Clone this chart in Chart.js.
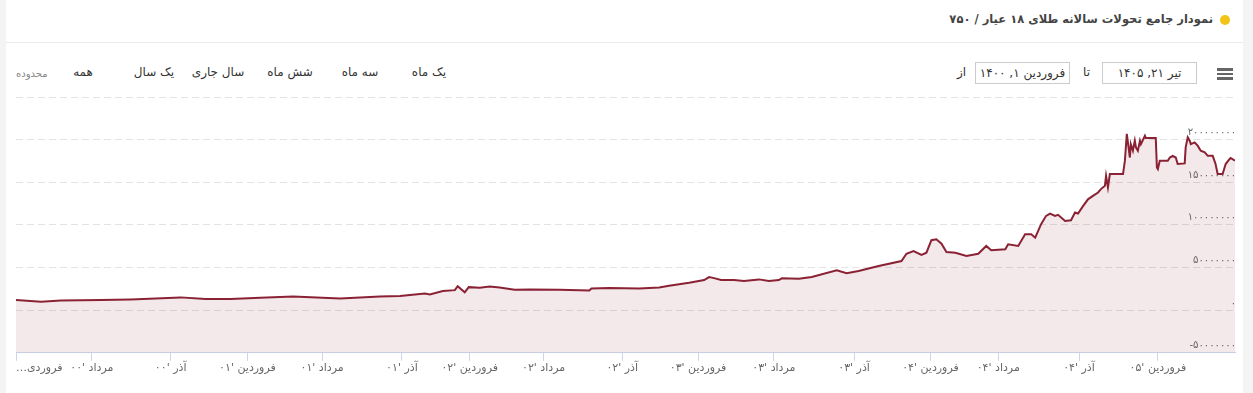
<!DOCTYPE html>
<html lang="fa">
<head>
<meta charset="utf-8">
<script src="https://cdn.jsdelivr.net/npm/chart.js@4.4.1/dist/chart.umd.min.js"></script>
<style>
  html, body { margin: 0; padding: 0; }
  body { width: 1253px; height: 393px; background: #f4f4f4; font-family: "DejaVu Sans", sans-serif; overflow: hidden; }
  #card { position: absolute; left: 6px; top: 0; width: 1237px; height: 393px; background: #fff; }
  #head { position: absolute; left: 0; top: 0; width: 1237px; height: 42px; border-bottom: 1px solid #e9e9e9; }
  #title { position: absolute; right: 30px; top: 12px; font-size: 11.5px; font-weight: bold; color: #444; direction: rtl; white-space: nowrap; }
  #dot { position: absolute; left: 1214px; top: 15px; width: 10px; height: 10px; border-radius: 50%; background: #f2c417; }
  .btn { position: absolute; top: 65px; width: 80px; text-align: center; font-size: 12px; color: #333; direction: rtl; white-space: nowrap; }
  .lbl { position: absolute; top: 66px; font-size: 11px; color: #333; direction: rtl; white-space: nowrap; }
  .box { position: absolute; top: 62px; width: 93px; height: 20px; border: 1px solid #ccc; font-size: 12px; color: #333; text-align: center; line-height: 20px; direction: rtl; }
  .menu { position: absolute; left: 1211px; width: 16px; height: 2.5px; background: #666; }
  #wrap { position: absolute; left: 0; top: 90px; width: 1243px; height: 303px; }
</style>
</head>
<body>
<div id="card">
  <div id="head">
    <div id="title">نمودار جامع تحولات سالانه طلای ۱۸ عیار / ۷۵۰</div>
    <div id="dot"></div>
  </div>
  <div class="lbl" style="left:10px;top:68px;font-size:10px;color:#888;">محدوده</div>
  <div class="btn" style="left:37px;">همه</div>
  <div class="btn" style="left:108px;">یک سال</div>
  <div class="btn" style="left:172px;">سال جاری</div>
  <div class="btn" style="left:244px;">شش ماه</div>
  <div class="btn" style="left:314px;">سه ماه</div>
  <div class="btn" style="left:383px;">یک ماه</div>
  <div class="lbl" style="left:951px;top:65px;font-size:12px;">از</div>
  <div class="box" style="left:969px;">فروردین ۱, ۱۴۰۰</div>
  <div class="lbl" style="left:1077px;top:65px;font-size:12px;">تا</div>
  <div class="box" style="left:1096px;">تیر ۲۱, ۱۴۰۵</div>
  <div class="menu" style="top:68px;"></div>
  <div class="menu" style="top:72.5px;"></div>
  <div class="menu" style="top:77px;"></div>
</div>
<div id="wrap"><canvas id="chart"></canvas></div>
<script>
// ordinal position (months since Farvardin 1400, trading-day spacing)
const positions = [
  0, 1.31, 2.36, 4.45, 6.02, 8.64, 9.95, 11.26, 12.83, 14.55, 17.02, 19.11, 20.16,
  21.47, 21.73, 22.41, 23.04, 23.19, 23.56, 23.77, 24.35, 24.87, 25.39, 26.18, 26.96,
  28.53, 30.10, 30.21, 31.15, 32.72, 33.77, 34.29, 35.34, 36.13, 36.39, 36.65, 37.02,
  37.70, 38.22, 39.01, 39.53, 40.05, 40.21, 41.10, 41.78, 43.09, 43.61, 44.24, 45.29,
  46.49, 46.75, 47.12, 47.54, 47.80, 48.06, 48.32, 48.59, 48.85, 49.32, 49.90, 50.52,
  50.94, 51.20, 51.94, 52.09, 52.62, 52.98, 53.30, 53.51, 53.82, 54.08, 54.29, 54.55,
  54.71, 55.08, 55.39, 55.60, 55.76, 56.02, 56.28, 56.54, 56.81, 56.96, 57.17, 57.23,
  57.33, 57.43, 58.12, 58.22, 58.32, 58.48, 58.53, 58.64, 58.74, 58.80, 58.90, 59.01,
  59.06, 59.27, 59.32, 59.84, 59.90, 59.95, 60.05, 60.47, 60.58, 60.73, 60.89, 60.99,
  61.36, 61.41, 61.52, 61.62, 61.68, 61.88, 62.04, 62.20, 62.41, 62.57, 62.83, 62.98,
  63.09, 63.35, 63.51, 63.72, 63.77, 64
];
// price in millions of rial
const prices = [
  11.8, 9.8, 11.2, 11.8, 12.6, 15, 13, 13, 14.5, 16, 13.8, 16, 16.5,
  19.6, 18.4, 22.4, 23.5, 28.2, 21, 27, 26.2, 27.8, 26.6, 23.9, 24.3,
  23.9, 23.1, 25.5, 25.9, 25.5, 26.6, 28.6, 32.1, 35.3, 38.8, 37.6, 35.3,
  35.3, 34.1, 36.1, 34.1, 35.3, 37.3, 36.9, 38.8, 46.7, 43.2, 45.9, 51.8,
  57.6, 66.2, 69.4, 64.7, 67.4, 82, 83.1, 78, 68.2, 67.4, 63.5, 66.2,
  75.3, 70.2, 71.4, 77.3, 75.3, 89, 89, 85, 100.8, 110.6, 113.3, 110.6,
  111.8, 104.7, 105.5, 114.5, 113.3, 122, 130, 134, 138, 142, 145.9, 157.6,
  144, 159.6, 159.6, 175.3, 206.7, 179, 194.7, 187, 198.8, 190.9, 187, 198.8,
  194.7, 204.6, 201.8, 201.8, 167.4, 165.5, 175.3, 175.3, 179, 181, 179, 171.4,
  172.1, 190.9, 202.7, 198.8, 194.7, 196.7, 192.9, 187, 185, 181, 181, 171.4,
  159.6, 159.6, 171.4, 177.3, 178.5, 175.3
];
const tickPositions = [0, 3.98, 8.12, 12.15, 16.07, 20.26, 23.82, 27.7, 31.83, 35.81, 39.79, 44.0, 48.01, 51.57, 55.81, 59.95, 64];
const tickLabels = [
  "…فروردی", "مرداد '۰۰", "آذر '۰۰", "فروردین '۰۱", "مرداد '۰۱", "آذر '۰۱",
  "فروردین '۰۲", "مرداد '۰۲", "آذر '۰۲", "فروردین '۰۳", "مرداد '۰۳", "آذر '۰۳",
  "فروردین '۰۴", "مرداد '۰۴", "آذر '۰۴", "فروردین '۰۵", ""
];
const yMin = -50000000, yMax = 250000000, yStep = 50000000;

const faDigits = (s) => String(s).replace(/\d/g, d => '۰۱۲۳۴۵۶۷۸۹'[d]);

const points = positions.map((p, i) => ({ x: p, y: prices[i] * 1000000 }));

new Chart(document.getElementById('chart'), {
  type: 'line',
  data: {
    datasets: [{
      data: points,
      borderColor: '#8a2234',
      backgroundColor: 'rgba(138,34,52,0.1)',
      borderWidth: 2,
      pointRadius: 0,
      tension: 0,
      fill: 'start'
    }]
  },
  options: {
    responsive: true,
    maintainAspectRatio: false,
    animation: false,
    layout: { padding: { left: 16, right: 6, top: 7, bottom: 17 } },
    plugins: { legend: { display: false }, tooltip: { enabled: false } },
    scales: {
      x: {
        type: 'linear',
        min: 0,
        max: 64,
        afterBuildTicks: (axis) => { axis.ticks = tickPositions.map(v => ({ value: v })); },
        border: { color: '#ccd6eb' },
        grid: {
          drawOnChartArea: false,
          tickLength: 8,
          tickColor: (ctx) => ctx.index === tickPositions.length - 1 ? 'rgba(0,0,0,0)' : '#ccd6eb'
        },
        ticks: {
          autoSkip: false,
          maxRotation: 0,
          align: 'inner',
          padding: 1,
          color: '#666',
          font: { family: 'DejaVu Sans', size: 11 },
          callback: (v, i) => tickLabels[i]
        }
      },
      y: {
        position: 'right',
        min: yMin,
        max: yMax,
        border: { display: false, dash: [7, 4] },
        grid: { color: '#e3e3e3', drawTicks: false },
        ticks: {
          stepSize: yStep,
          mirror: true,
          padding: 1,
          labelOffset: -7,
          color: '#666',
          font: { family: 'DejaVu Sans', size: 10 },
          callback: (v) => v === yMax ? '' : faDigits(v)
        }
      }
    }
  }
});
</script>
</body>
</html>
